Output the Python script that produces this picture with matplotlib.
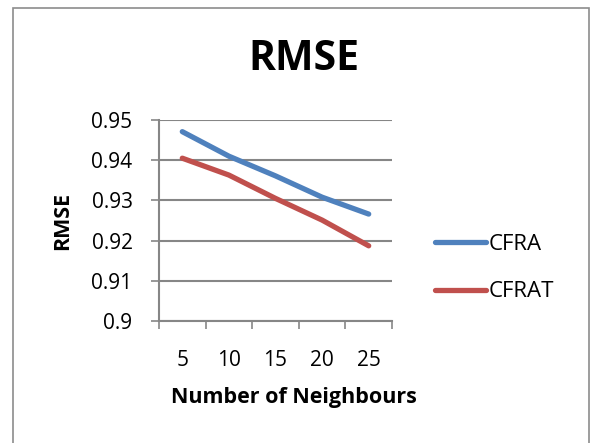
import matplotlib
matplotlib.use("Agg")
import matplotlib.pyplot as plt
from matplotlib.patches import Rectangle

#--- Données ---
voisins = ["5", "10", "15", "20", "25"]
cfra = [0.9471, 0.9410, 0.9361, 0.9308, 0.9266]
cfrat = [0.9405, 0.9363, 0.9305, 0.9251, 0.9187]
yticks = [0.9, 0.91, 0.92, 0.93, 0.94, 0.95]
ytick_labels = ["0.9", "0.91", "0.92", "0.93", "0.94", "0.95"]

plt.rcParams['font.family'] = ['Open Sans', 'DejaVu Sans']

fig = plt.figure(figsize=(5.95, 4.43), dpi=100)
ax = fig.add_axes([159/595, 1-321/443, (392-159)/595, (321-120)/443])

# cadre gris autour du graphique
fig.patches.append(Rectangle((13/595, -0.05), (589-13)/595, 1.05 - 8/443,
                             transform=fig.transFigure, fill=False,
                             edgecolor="#8c8c8c", linewidth=1.2))

x = range(len(voisins))
ax.plot(x, cfra, color="#4F81BD", linewidth=3.8, solid_capstyle="round", label="CFRA")
ax.plot(x, cfrat, color="#C0504D", linewidth=3.8, solid_capstyle="round", label="CFRAT")

ax.set_xlim(-0.5, len(voisins) - 0.5)
ax.set_ylim(0.9, 0.95)
ax.set_yticks(yticks)
ax.set_yticklabels(ytick_labels)
ax.set_xticks([i - 0.5 for i in range(len(voisins) + 1)], minor=False)
ax.set_xticklabels([])
ax.set_xticks(list(x), minor=True)
ax.set_xticklabels(voisins, minor=True)
ax.tick_params(axis="x", which="minor", length=0, labelsize=15, pad=21)
ax.tick_params(axis="x", which="major", length=6, color="#868686", direction="out", width=1.2)
ax.tick_params(axis="y", length=6, color="#868686", labelsize=15, width=1.2, pad=13)

ax.grid(axis="y", color="#868686", linewidth=1.5)
ax.set_axisbelow(True)
for s in ["top", "right"]:
    ax.spines[s].set_visible(False)
ax.spines["left"].set_color("#868686")
ax.spines["left"].set_linewidth(1.5)
ax.spines["bottom"].set_color("#868686")
ax.spines["bottom"].set_linewidth(1.5)

fig.text(304/595, 1-60/443, "RMSE", fontsize=29.5, fontweight="bold", ha="center", va="center")
fig.text(63/595, 1-221/443, "RMSE", fontsize=15.5, fontweight="bold",
         rotation=90, ha="center", va="center")
fig.text(294/595, 1-397/443, "Number of Neighbours", fontsize=15.5, fontweight="bold",
         ha="center", va="center")

ax.legend(loc="center left", bbox_to_anchor=(424/595, 1-268/443),
          bbox_transform=fig.transFigure, frameon=False, borderpad=0,
          fontsize=16, handlelength=2.3, handletextpad=0.1, labelspacing=1.2)

fig.savefig("out.png", dpi=100)
